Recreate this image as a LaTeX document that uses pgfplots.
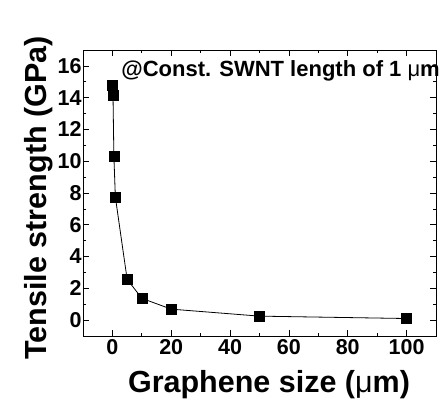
\documentclass[border=0pt]{standalone}
\usepackage{fontspec}
\setmainfont{Liberation Sans}
\usepackage{pgfplots}
\pgfplotsset{compat=1.18}
\begin{document}
\begin{tikzpicture}
\begin{axis}[
  name=ax,
  scale only axis,
  width=353pt, height=286pt,
  xmin=-10, xmax=110, ymin=-1, ymax=17,
  xtick={0,20,...,100}, ytick={0,2,...,16},
  minor x tick num=1, minor y tick num=1,
  tick align=inside,
  major tick length=6pt, minor tick length=3pt,
  axis line style={line width=0.9pt},
  every tick/.style={line width=0.7pt, black},
  /pgf/number format/assume math mode=true,
  tick label style={font=\fontsize{21.5}{25}\selectfont\bfseries},
  yticklabel style={xshift=2pt},
  xlabel={Graphene size ({\mdseries μ}m)},
  ylabel={Tensile strength (GPa)},
  every axis x label/.style={at={(axis description cs:0.527,-0.196)}, anchor=base, font=\fontsize{30.5}{36}\selectfont\bfseries},
  every axis y label/.style={at={(axis description cs:-0.102,0.483)}, anchor=base, rotate=90, font=\fontsize{30.5}{36}\selectfont\bfseries},
  clip=false,
]
\addplot[black, line width=0.8pt, mark=square*, mark size=5pt, mark options={fill=black, line width=0.5pt}]
  coordinates {(0.1,14.8) (0.2,14.15) (0.5,10.3) (1,7.75) (5,2.57) (10,1.37) (20,0.69) (50,0.25) (100,0.1)};
\node[anchor=base west, inner sep=0pt, font=\fontsize{22}{26}\selectfont\bfseries]
  at (rel axis cs:0.108,0.907) {@Const. SWNT length of 1 {\mdseries μ}m};
\end{axis}
\pgfresetboundingbox
\path[use as bounding box] ([xshift=-83pt,yshift=-68pt]ax.south west) rectangle ([xshift=6pt,yshift=50pt]ax.north east);
\end{tikzpicture}
\end{document}
